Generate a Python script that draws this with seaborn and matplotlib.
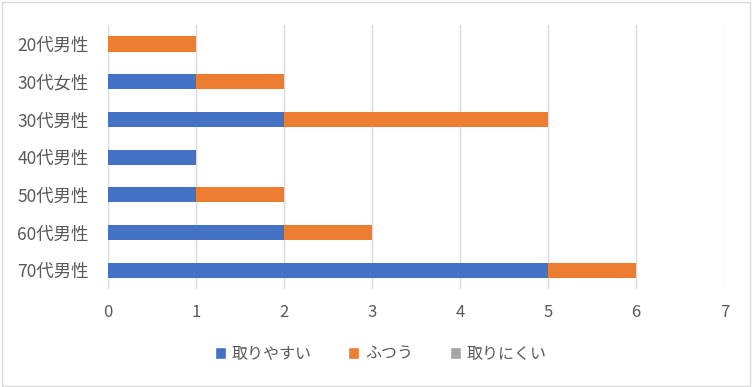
import pandas as pd
import matplotlib.pyplot as plt
import seaborn as sns
from matplotlib.patches import Patch, Rectangle

# Data
groups = ['20代男性', '30代女性', '30代男性', '40代男性', '50代男性', '60代男性', '70代男性']
easy = [0, 1, 2, 1, 1, 2, 5]      # 取りやすい
normal = [1, 1, 3, 0, 1, 1, 1]    # ふつう
hard = [0, 0, 0, 0, 0, 0, 0]      # 取りにくい
series_names = ['取りやすい', 'ふつう', '取りにくい']
colors = ['#4472C4', '#ED7D31', '#A5A5A5']

df = pd.DataFrame({'group': groups, 'easy': easy, 'normal': normal, 'hard': hard})
df['cum1'] = df['easy']
df['cum2'] = df['cum1'] + df['normal']
df['cum3'] = df['cum2'] + df['hard']

sns.set_style('white')
plt.rcParams['font.family'] = ['Noto Sans CJK JP', 'DejaVu Sans']

fig = plt.figure(figsize=(7.52, 3.87), dpi=100)
ax = fig.add_axes([0.1436, 0.253, 0.8195, 0.682])

# stacked bars: draw cumulative totals back to front
for col, c in zip(['cum3', 'cum2', 'cum1'], colors[::-1]):
    sns.barplot(data=df, x=col, y='group', order=groups, color=c,
                width=0.4, saturation=1, ax=ax, zorder=3, linewidth=0)

ax.set_xlim(0, 7)
ax.set_xticks(range(0, 8))
ax.set_xlabel('')
ax.set_ylabel('')
ax.grid(axis='x', color='#D9D9D9', linewidth=1, zorder=0)
ax.set_axisbelow(True)
for s in ax.spines.values():
    s.set_visible(False)
ax.tick_params(axis='both', length=0, labelcolor='#595959')
ax.tick_params(axis='x', pad=11, labelsize=12)
ax.tick_params(axis='y', pad=14, labelsize=12.5)

handles = [Patch(facecolor=c, label=n) for c, n in zip(colors, series_names)]
fig.legend(handles=handles, loc='center', bbox_to_anchor=(0.506, 0.085), ncol=3,
           frameon=False, fontsize=11.5, handlelength=0.7, handleheight=0.7,
           handletextpad=0.35, columnspacing=2.3, labelcolor='#595959')

fig.patches.append(Rectangle((0.002, 0.003), 0.995, 0.993, transform=fig.transFigure,
                             fill=False, edgecolor='#D9D9D9', linewidth=1))

fig.savefig('out.png', dpi=100)
